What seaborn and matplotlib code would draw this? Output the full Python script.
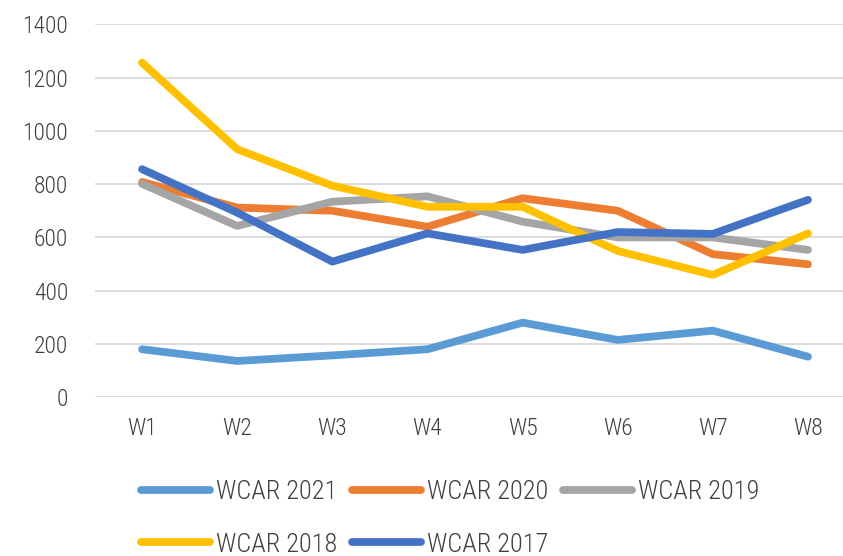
import matplotlib
matplotlib.use("Agg")
import matplotlib.pyplot as plt
from matplotlib.lines import Line2D
import seaborn as sns
import pandas as pd

weeks = ["W1", "W2", "W3", "W4", "W5", "W6", "W7", "W8"]
wcar_2021 = [180, 136, 157, 180, 280, 215, 250, 152]
wcar_2020 = [808, 712, 700, 640, 747, 700, 537, 499]
wcar_2019 = [801, 643, 734, 754, 659, 600, 600, 553]
wcar_2018 = [1256, 931, 794, 715, 715, 549, 459, 615]
wcar_2017 = [856, 693, 509, 615, 553, 620, 613, 741]
series_names = ["WCAR 2021", "WCAR 2020", "WCAR 2019", "WCAR 2018", "WCAR 2017"]
colors = ["#5B9BD5", "#ED7D31", "#A5A5A5", "#FFC000", "#4472C4"]
y_ticks = [0, 200, 400, 600, 800, 1000, 1200, 1400]

all_vals = [wcar_2021, wcar_2020, wcar_2019, wcar_2018, wcar_2017]
rows = []
for name, vals in zip(series_names, all_vals):
    for i, (w, v) in enumerate(zip(weeks, vals)):
        rows.append({"week": w, "idx": i, "value": v, "series": name})
df = pd.DataFrame(rows)

sns.set_style("white")
plt.rcParams["font.family"] = ["Roboto Condensed", "DejaVu Sans"]
plt.rcParams["font.weight"] = "light"
text_color = "#404040"
tick_fs = 17
leg_fs = 19

fig = plt.figure(figsize=(8.43, 5.56), dpi=100)
ax = fig.add_axes([94.5 / 843, 1 - 397.2 / 556, 1 - 94.5 / 843, (397.2 - 24.3) / 556])

sns.lineplot(data=df, x="idx", y="value", hue="series", hue_order=series_names,
             palette=colors, linewidth=5.6, ax=ax, sort=False, legend=False)
for line in ax.get_lines():
    line.set_solid_capstyle("round")
    line.set_solid_joinstyle("round")

ax.set_xlim(-0.5, 7 + (843 - 808) / 95.14)
ax.set_ylim(0, 1400)
ax.set_yticks(y_ticks)
ax.set_yticklabels([str(t) for t in y_ticks])
ax.set_xticks(range(len(weeks)))
ax.set_xticklabels(weeks)
ax.yaxis.grid(True, color="#D9D9D9", linewidth=1.3)
ax.set_axisbelow(True)
for s in ax.spines.values():
    s.set_visible(False)
ax.tick_params(axis="both", length=0, labelsize=tick_fs, colors=text_color)
ax.tick_params(axis="y", pad=19)
ax.tick_params(axis="x", pad=14)
ax.set_xlabel("")
ax.set_ylabel("")

handles = {n: Line2D([0], [0], color=c, linewidth=5.6, solid_capstyle="round")
           for n, c in zip(series_names, colors)}
order = ["WCAR 2021", "WCAR 2018", "WCAR 2020", "WCAR 2017", "WCAR 2019"]
leg = fig.legend([handles[n] for n in order], order, ncol=3, frameon=False,
                 loc="upper left", bbox_to_anchor=(141 / 843, 1 - 480 / 556),
                 fontsize=leg_fs, handlelength=2.6, handletextpad=0.25,
                 columnspacing=0.55, labelspacing=1.08, borderaxespad=0,
                 borderpad=0)
for t in leg.get_texts():
    t.set_color(text_color)

fig.savefig("out.png", dpi=100)
